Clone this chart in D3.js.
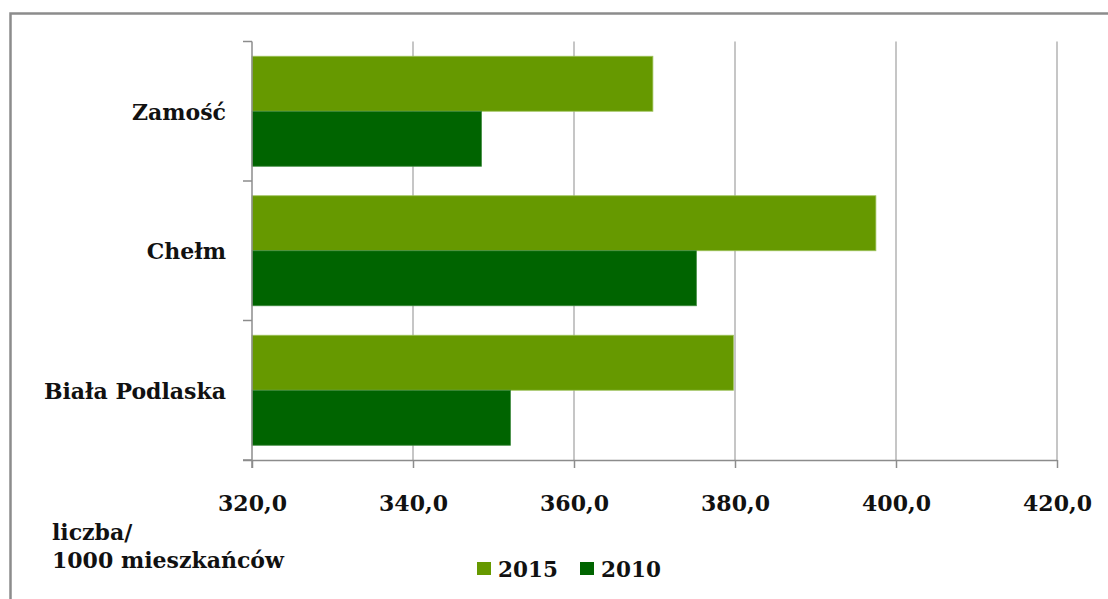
<!DOCTYPE html>
<html>
<head>
<meta charset="utf-8">
<script src="https://cdn.jsdelivr.net/npm/d3@7"></script>
<style>
  html, body { margin: 0; padding: 0; background: #fff; }
  svg { display: block; }
  text { font-family: "DejaVu Serif", "Liberation Serif", serif; font-weight: bold; fill: #111; }
</style>
</head>
<body>
<svg id="chart" width="1108" height="599"></svg>
<script>
const categories = ["Zamość", "Chełm", "Biała Podlaska"];
const seriesNames = ["2015", "2010"];
const values2015 = [369.8, 397.5, 379.8];
const values2010 = [348.5, 375.2, 352.1];
const xTicks = [320, 340, 360, 380, 400, 420];
const colors = ["#669900", "#006400"];
const strokes = ["#9dc25a", "#3f8a3f"];
const axisTitle = ["liczba/", "1000 mieszkańców"];

const svg = d3.select("#chart");

// outer border
svg.append("rect")
  .attr("x", 10.5).attr("y", 13.5)
  .attr("width", 1120).attr("height", 620)
  .attr("fill", "#fff").attr("stroke", "#8c8c8c").attr("stroke-width", 2.5);

const plotLeft = 252, plotRight = 1057, plotTop = 41.5, plotBottom = 460;

const x = d3.scaleLinear().domain([320, 420]).range([plotLeft, plotRight]);
const y = d3.scaleBand().domain(categories).range([plotTop, plotBottom]).paddingInner(0).paddingOuter(0);
const inner = d3.scaleBand().domain(seriesNames).range([0, y.bandwidth()]).paddingInner(0).paddingOuter(0.268);

// gridlines
svg.append("g").selectAll("line")
  .data(xTicks.slice(1))
  .join("line")
  .attr("x1", d => x(d)).attr("x2", d => x(d))
  .attr("y1", plotTop).attr("y2", plotBottom)
  .attr("stroke", "#b3b3b3").attr("stroke-width", 1.5);

// bars
const data = [];
categories.forEach((c, i) => {
  data.push({cat: c, s: "2015", v: values2015[i], k: 0});
  data.push({cat: c, s: "2010", v: values2010[i], k: 1});
});

svg.append("g").selectAll("rect")
  .data(data)
  .join("rect")
  .attr("x", x(320))
  .attr("y", d => y(d.cat) + inner(d.s))
  .attr("width", d => x(d.v) - x(320))
  .attr("height", inner.bandwidth())
  .attr("fill", d => colors[d.k])
  .attr("stroke", d => strokes[d.k])
  .attr("stroke-width", 0.8);

// y axis line and ticks (at band boundaries)
const yAxisG = svg.append("g");
yAxisG.append("line")
  .attr("x1", plotLeft).attr("x2", plotLeft).attr("y1", plotTop).attr("y2", plotBottom + 8)
  .attr("stroke", "#8c8c8c").attr("stroke-width", 1.5);
const boundaries = categories.map(c => y(c)).concat([plotBottom]);
yAxisG.selectAll("line.tk")
  .data(boundaries)
  .join("line").attr("class", "tk")
  .attr("x1", plotLeft - 9).attr("x2", plotLeft)
  .attr("y1", d => d).attr("y2", d => d)
  .attr("stroke", "#8c8c8c").attr("stroke-width", 1.5);

// category labels
svg.append("g").selectAll("text")
  .data(categories)
  .join("text")
  .attr("x", 226)
  .attr("y", d => y(d) + y.bandwidth() / 2)
  .attr("dy", "0.38em")
  .attr("text-anchor", "end")
  .attr("font-size", 22)
  .text(d => d);

// x axis
const xAxis = d3.axisBottom(x)
  .tickValues(xTicks)
  .tickSize(8)
  .tickPadding(27)
  .tickSizeOuter(0)
  .tickFormat(d => d3.format(".1f")(d).replace(".", ","));
const xg = svg.append("g").attr("transform", `translate(0,${plotBottom})`).call(xAxis);
xg.select(".domain").attr("stroke", "#8c8c8c").attr("stroke-width", 1.5)
  .attr("d", `M${plotLeft - 9},0.5H${plotRight}`);
xg.selectAll(".tick line").attr("stroke", "#8c8c8c").attr("stroke-width", 1.5);
xg.selectAll(".tick text")
  .attr("font-size", 22)
  .attr("fill", "#111")
  .attr("font-family", "DejaVu Serif, Liberation Serif, serif")
  .attr("font-weight", "bold");

// axis title
svg.append("g").selectAll("text")
  .data(axisTitle)
  .join("text")
  .attr("x", 52)
  .attr("y", (d, i) => 540 + i * 28)
  .attr("font-size", 22)
  .text(d => d);

// legend
const legend = svg.append("g");
const legX = [477, 580];
seriesNames.forEach((s, i) => {
  legend.append("rect")
    .attr("x", legX[i]).attr("y", 562)
    .attr("width", 14).attr("height", 13)
    .attr("fill", colors[i]);
  legend.append("text")
    .attr("x", legX[i] + 21).attr("y", 577)
    .attr("font-size", 21.5)
    .text(s);
});
</script>
</body>
</html>
